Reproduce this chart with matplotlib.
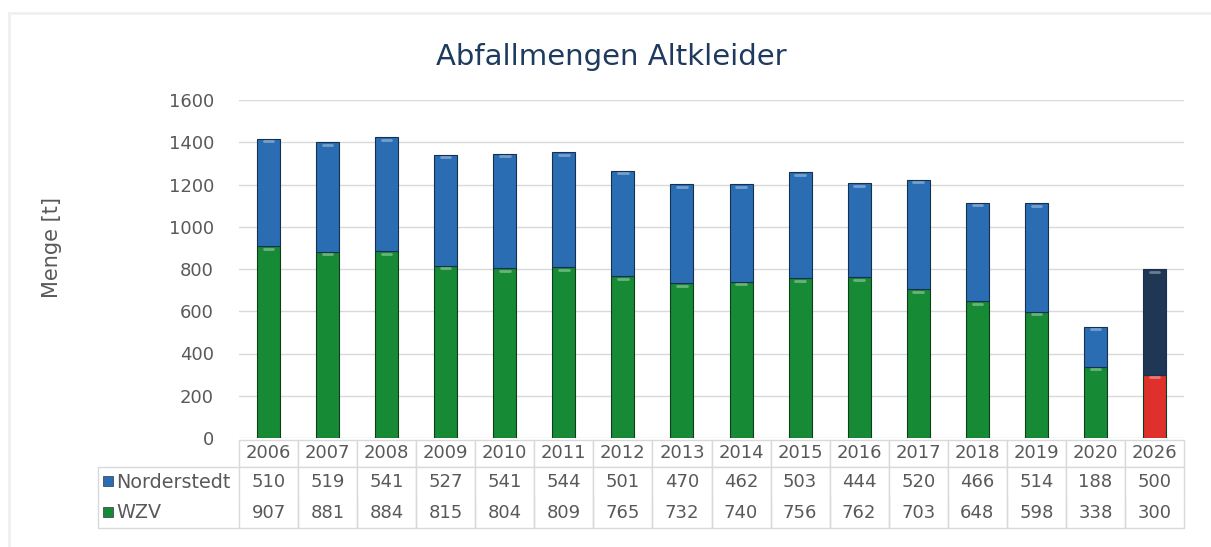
import matplotlib
matplotlib.use("Agg")
import matplotlib.pyplot as plt
from matplotlib.patches import Rectangle
from matplotlib.lines import Line2D

years = ["2006", "2007", "2008", "2009", "2010", "2011", "2012", "2013",
         "2014", "2015", "2016", "2017", "2018", "2019", "2020", "2026"]
norderstedt = [510, 519, 541, 527, 541, 544, 501, 470, 462, 503, 444, 520, 466, 514, 188, 500]
wzv = [907, 881, 884, 815, 804, 809, 765, 732, 740, 756, 762, 703, 648, 598, 338, 300]
series_names = ["Norderstedt", "WZV"]
title = "Abfallmengen Altkleider"
ylabel = "Menge [t]"
yticks = [0, 200, 400, 600, 800, 1000, 1200, 1400, 1600]

blue, green = "#2b6db3", "#178a35"
navy, red = "#1f3654", "#e0302c"
txt = "#595959"

W, H = 1211, 547
fig = plt.figure(figsize=(W / 100, H / 100), dpi=100)
fig.patch.set_facecolor("white")

ax = fig.add_axes([239 / W, 1 - 438 / H, (1184 - 239) / W, (438 - 100) / H])
x = list(range(len(years)))
bottom_cols = [green] * (len(years) - 1) + [red]
top_cols = [blue] * (len(years) - 1) + [navy]
ax.bar(x, wzv, width=0.39, color=bottom_cols, edgecolor="#0e3d1c", linewidth=0.8, zorder=3)
ax.bar(x, norderstedt, bottom=wzv, width=0.39, color=top_cols, edgecolor="#16304f",
       linewidth=0.8, zorder=3)
# subtle highlight at top of each segment
for xi, w_, n_ in zip(x, wzv, norderstedt):
    ax.plot([xi - 0.08, xi + 0.08], [w_ - 12, w_ - 12], color="white", alpha=0.35, lw=2,
            solid_capstyle="round", zorder=4)
    ax.plot([xi - 0.08, xi + 0.08], [w_ + n_ - 12, w_ + n_ - 12], color="white", alpha=0.35,
            lw=2, solid_capstyle="round", zorder=4)

ax.set_xlim(-0.5, len(years) - 0.5)
ax.set_ylim(0, 1600)
ax.set_yticks(yticks)
ax.set_yticklabels([str(v) for v in yticks], fontsize=13, color=txt)
ax.tick_params(axis="y", length=0, pad=18)
ax.set_xticks([])
for s in ax.spines.values():
    s.set_visible(False)
ax.grid(axis="y", color="#d9d9d9", lw=1, zorder=0)
ax.set_axisbelow(True)

ax.set_ylabel(ylabel, fontsize=15, color=txt)
ax.yaxis.set_label_coords((62 - 239) / (1184 - 239), (438 - 247) / 338)
fig.text(611 / W, 1 - 57 / H, title, fontsize=21, color="#1f3a5f",
         ha="center", va="center")

# data table
cell_text = [[""] + years,
             [series_names[0]] + [str(v) for v in norderstedt],
             [series_names[1]] + [str(v) for v in wzv]]
lab_w = (239 - 98) / 945
y0 = (438 - 528) / 338
y1 = (438 - 440) / 338
tbl = ax.table(cellText=cell_text, cellLoc="center",
               bbox=[-lab_w, y0, 1 + lab_w, y1 - y0])
tbl.auto_set_font_size(False)
tbl.set_fontsize(13)
heights = [27, 30, 31]
for (r, c), cell in tbl.get_celld().items():
    cell.set_edgecolor("#d9d9d9")
    cell.set_linewidth(1)
    cell.set_height(heights[r])
    cell.set_width(141 if c == 0 else 59.06)
    cell.get_text().set_color(txt)
    if r == 0:
        cell.visible_edges = "" if c == 0 else "closed"
    elif r == 1:
        cell.visible_edges = "TL" if c == 0 else "TLR"
    else:
        cell.visible_edges = "BL" if c == 0 else "BLR"
    if c == 0 and r > 0:
        cell._loc = "left"
        cell.get_text().set_ha("left")
        cell.get_text().set_fontsize(13.8)
        cell.PAD = 0.13

sq_cols = [blue, green]
for i, cy in enumerate([481, 512]):
    ax.add_patch(Rectangle(((103 - 239) / 945, (438 - cy - 5) / 338), 10 / 945, 10 / 338,
                           transform=ax.transAxes, clip_on=False, facecolor=sq_cols[i],
                           edgecolor="#334", linewidth=0.5))

# faint outer frame
fig.add_artist(Line2D([9 / W, 9 / W], [0, 1 - 13 / H], transform=fig.transFigure,
                      color="#f0f0f0", lw=2))
fig.add_artist(Line2D([9 / W, 1], [1 - 13 / H, 1 - 13 / H], transform=fig.transFigure,
                      color="#f0f0f0", lw=2))

fig.savefig("out.png", dpi=100, facecolor="white")
